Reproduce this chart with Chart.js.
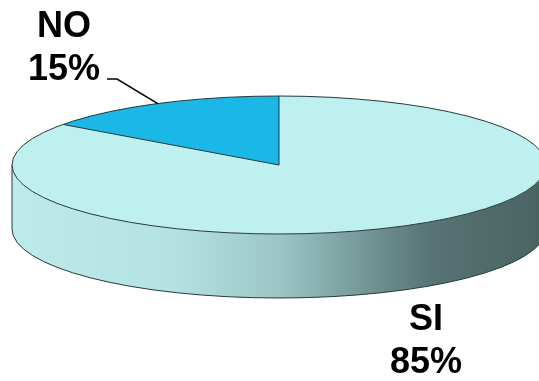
<!DOCTYPE html>
<html>
<head>
<meta charset="utf-8">
<script src="https://cdn.jsdelivr.net/npm/chart.js@4.4.1/dist/chart.umd.min.js"></script>
<style>
  html, body { margin: 0; padding: 0; background: #fff; }
  #wrap { width: 539px; height: 381px; position: relative; }
</style>
</head>
<body>
<div id="wrap"><canvas id="pieChart"></canvas></div>
<script>
// answers and their shares (percent)
const answers = ["SI", "NO"];
const shares = [85, 15];

const sliceColors = ["#bff0f0", "#1bb7e6"];
// side wall shading, left -> right, per slice
const wallShades = [
  ["#bdeaea", "#b4e2e2", "#9cc6c6", "#7ea2a2", "#587474", "#4a6262"],
  ["#1aa8d6", "#1798c2", "#137fa3", "#0f6482", "#0b4c63", "#093f52"]
];

// tilted disc: screen centre, vertical radius, thickness
const disc = { cx: 279, cy: 165, ry: 69, depth: 64 };

// where each label block sits (centre x, first baseline)
const labelSpots = [
  { x: 426, y: 330, leader: null },
  { x: 64, y: 37, leader: [[117, 79], [107, 79]] }
];

const TWO_PI = Math.PI * 2;

const pie3d = {
  id: "pie3d",
  beforeDatasetsDraw(chart) {
    const ctx = chart.ctx;
    const arcs = chart.getDatasetMeta(0).data;
    const rx = arcs[0].outerRadius;
    const { cx, cy, ry, depth } = disc;

    // front wall, only the part facing the viewer (0..PI)
    arcs.forEach((arc, i) => {
      const shades = wallShades[i];
      const grad = ctx.createLinearGradient(cx - rx, 0, cx + rx, 0);
      const stops = [0, 0.3, 0.5, 0.62, 0.78, 1];
      stops.forEach((s, j) => grad.addColorStop(s, shades[j]));
      for (let k = -1; k <= 1; k++) {
        const lo = Math.max(arc.startAngle, TWO_PI * k);
        const hi = Math.min(arc.endAngle, Math.PI + TWO_PI * k);
        if (hi <= lo) continue;
        ctx.beginPath();
        ctx.ellipse(cx, cy, rx, ry, 0, lo, hi);
        ctx.ellipse(cx, cy + depth, rx, ry, 0, hi, lo, true);
        ctx.closePath();
        ctx.fillStyle = grad;
        ctx.fill();
      }
    });

    // wall outline
    ctx.save();
    ctx.strokeStyle = "#26383a";
    ctx.lineWidth = 1;
    ctx.beginPath();
    ctx.ellipse(cx, cy + depth, rx, ry, 0, 0, Math.PI);
    ctx.stroke();
    ctx.beginPath();
    ctx.moveTo(cx - rx, cy);
    ctx.lineTo(cx - rx, cy + depth);
    ctx.moveTo(cx + rx, cy);
    ctx.lineTo(cx + rx, cy + depth);
    ctx.stroke();
    ctx.restore();

    // squash the pie itself into the top face
    ctx.save();
    ctx.translate(cx, cy);
    ctx.scale(1, ry / rx);
    ctx.translate(-arcs[0].x, -arcs[0].y);
  },
  afterDatasetsDraw(chart) {
    const ctx = chart.ctx;
    ctx.restore();
    const arcs = chart.getDatasetMeta(0).data;
    const rx = arcs[0].outerRadius;
    const { cx, cy, ry } = disc;

    // rim of the top face and slice edges
    ctx.save();
    ctx.strokeStyle = "#26383a";
    ctx.lineWidth = 1;
    ctx.beginPath();
    ctx.ellipse(cx, cy, rx, ry, 0, 0, TWO_PI);
    ctx.stroke();
    arcs.forEach(arc => {
      ctx.beginPath();
      ctx.moveTo(cx, cy);
      ctx.lineTo(cx + rx * Math.cos(arc.startAngle), cy + ry * Math.sin(arc.startAngle));
      ctx.stroke();
    });

    // labels
    ctx.fillStyle = "#000";
    ctx.textAlign = "center";
    ctx.textBaseline = "alphabetic";
    ctx.font = "bold 36px 'Liberation Sans', Arial, sans-serif";
    arcs.forEach((arc, i) => {
      const spot = labelSpots[i];
      ctx.fillText(answers[i], spot.x, spot.y);
      ctx.fillText(shares[i] + "%", spot.x, spot.y + 43);
      if (spot.leader) {
        const mid = (arc.startAngle + arc.endAngle) / 2;
        ctx.strokeStyle = "#000";
        ctx.lineWidth = 1.5;
        ctx.beginPath();
        ctx.moveTo(cx + rx * Math.cos(mid), cy + ry * Math.sin(mid));
        spot.leader.forEach(p => ctx.lineTo(p[0], p[1]));
        ctx.stroke();
      }
    });
    ctx.restore();
  }
};

new Chart(document.getElementById("pieChart"), {
  type: "pie",
  data: {
    labels: answers,
    datasets: [{
      data: shares,
      backgroundColor: sliceColors,
      borderWidth: 0,
      hoverOffset: 0,
      clip: false
    }]
  },
  options: {
    responsive: true,
    maintainAspectRatio: false,
    animation: false,
    events: [],
    radius: 267,
    rotation: 0,
    layout: { padding: 0 },
    plugins: {
      legend: { display: false },
      tooltip: { enabled: false }
    }
  },
  plugins: [pie3d]
});
</script>
</body>
</html>
